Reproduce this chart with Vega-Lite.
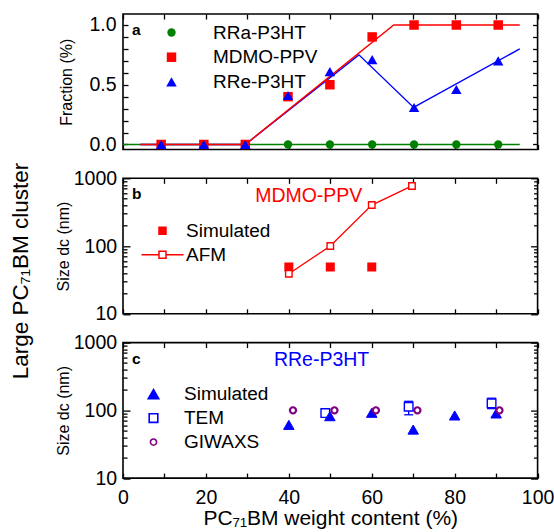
{
  "$schema": "https://vega.github.io/schema/vega-lite/v6.json",
  "padding": {"left": 9, "top": 12, "right": 0, "bottom": 3},
  "title": {"text": "Large PC₇₁BM cluster", "orient": "left", "anchor": "middle", "fontSize": 22.5, "fontWeight": "normal", "offset": 22},
  "spacing": 28.3,
  "bounds": "flush",
  "datasets": {
    "fitA": [
      {"series": "RRa-P3HT", "x": 0, "y": 0}, {"series": "RRa-P3HT", "x": 95.7, "y": 0},
      {"series": "RRe-P3HT", "x": 4.2, "y": 0}, {"series": "RRe-P3HT", "x": 29.5, "y": 0}, {"series": "RRe-P3HT", "x": 56.9, "y": 0.75}, {"series": "RRe-P3HT", "x": 70.1, "y": 0.31}, {"series": "RRe-P3HT", "x": 95.7, "y": 0.8},
      {"series": "MDMO-PPV", "x": 4.2, "y": 0}, {"series": "MDMO-PPV", "x": 29.5, "y": 0}, {"series": "MDMO-PPV", "x": 65.3, "y": 1}, {"series": "MDMO-PPV", "x": 95.7, "y": 1}
    ],
    "ptsA": [
      {"series": "RRa-P3HT", "x": 9.2, "y": 0}, {"series": "RRa-P3HT", "x": 19.5, "y": 0}, {"series": "RRa-P3HT", "x": 29.5, "y": 0}, {"series": "RRa-P3HT", "x": 39.8, "y": 0}, {"series": "RRa-P3HT", "x": 49.9, "y": 0}, {"series": "RRa-P3HT", "x": 60.1, "y": 0}, {"series": "RRa-P3HT", "x": 70.2, "y": 0}, {"series": "RRa-P3HT", "x": 80.4, "y": 0}, {"series": "RRa-P3HT", "x": 90.5, "y": 0},
      {"series": "MDMO-PPV", "x": 9.2, "y": 0}, {"series": "MDMO-PPV", "x": 19.5, "y": 0}, {"series": "MDMO-PPV", "x": 29.5, "y": 0}, {"series": "MDMO-PPV", "x": 39.8, "y": 0.4}, {"series": "MDMO-PPV", "x": 49.9, "y": 0.5}, {"series": "MDMO-PPV", "x": 60.1, "y": 0.9}, {"series": "MDMO-PPV", "x": 70.2, "y": 1}, {"series": "MDMO-PPV", "x": 80.4, "y": 1}, {"series": "MDMO-PPV", "x": 90.5, "y": 1},
      {"series": "RRe-P3HT", "x": 9.2, "y": 0}, {"series": "RRe-P3HT", "x": 19.5, "y": 0}, {"series": "RRe-P3HT", "x": 29.5, "y": 0}, {"series": "RRe-P3HT", "x": 39.8, "y": 0.41}, {"series": "RRe-P3HT", "x": 49.9, "y": 0.61}, {"series": "RRe-P3HT", "x": 60.1, "y": 0.71}, {"series": "RRe-P3HT", "x": 70.2, "y": 0.31}, {"series": "RRe-P3HT", "x": 80.4, "y": 0.46}, {"series": "RRe-P3HT", "x": 90.5, "y": 0.7}
    ],
    "b": [
      {"series": "Simulated", "x": 40, "y": 49}, {"series": "Simulated", "x": 50, "y": 49}, {"series": "Simulated", "x": 60, "y": 49},
      {"series": "AFM", "x": 40, "y": 39}, {"series": "AFM", "x": 50, "y": 100}, {"series": "AFM", "x": 60, "y": 403}, {"series": "AFM", "x": 69.7, "y": 771}
    ],
    "c": [
      {"series": "Simulated", "x": 40, "y": 61}, {"series": "Simulated", "x": 49.9, "y": 82}, {"series": "Simulated", "x": 60, "y": 92}, {"series": "Simulated", "x": 70, "y": 52}, {"series": "Simulated", "x": 80, "y": 84}, {"series": "Simulated", "x": 90, "y": 90},
      {"series": "TEM", "x": 48.8, "y": 91}, {"series": "TEM", "x": 68.9, "y": 113}, {"series": "TEM", "x": 88.9, "y": 127},
      {"series": "GIWAXS", "x": 41, "y": 100}, {"series": "GIWAXS", "x": 51, "y": 100}, {"series": "GIWAXS", "x": 61, "y": 100}, {"series": "GIWAXS", "x": 71, "y": 100}, {"series": "GIWAXS", "x": 90.8, "y": 100}
    ],
    "cErr": [
      {"x": 68.9, "lo": 86, "hi": 136}, {"x": 88.9, "lo": 106, "hi": 151}
    ]
  },
  "vconcat": [
    {
      "width": 414.6, "height": 135.5,
      "resolve": {"axis": {"x": "independent", "y": "independent"}},
      "layer": [
        {
          "data": {"name": "fitA"},
          "transform": [{"filter": "datum.series == 'RRa-P3HT'"}],
          "mark": {"type": "line", "strokeWidth": 1.4, "clip": true, "color": "#008000"},
          "encoding": {
            "x": {"field": "x", "type": "quantitative", "scale": {"domain": [0, 100], "nice": false, "zero": false},
                  "axis": {"orient": "bottom", "values": [0,10,20,30,40,50,60,70,80,90,100], "tickSize": -5, "labels": false, "title": null}},
            "y": {"field": "y", "type": "quantitative", "scale": {"domain": [-0.042, 1.092], "nice": false, "zero": false},
                  "axis": {"orient": "left", "values": [0,0.1,0.2,0.3,0.4,0.5,0.6,0.7,0.8,0.9,1], "tickSize": -5, "labelPadding": 11.9,
                           "labelExpr": "datum.value == 0 || datum.value == 0.5 || datum.value == 1 ? format(datum.value, '.1f') : ''",
                           "title": "Fraction (%)", "titleFontSize": 16, "titlePadding": 14.5}}
          }
        },
        {
          "data": {"name": "fitA"},
          "transform": [{"filter": "datum.series == 'RRe-P3HT'"}],
          "mark": {"type": "line", "strokeWidth": 1.4, "clip": true, "color": "#0000ff"},
          "encoding": {
            "x": {"field": "x", "type": "quantitative", "scale": {"domain": [0, 100], "nice": false, "zero": false}, "axis": null},
            "y": {"field": "y", "type": "quantitative", "scale": {"domain": [-0.042, 1.092], "nice": false, "zero": false}, "axis": null}
          }
        },
        {
          "data": {"name": "fitA"},
          "transform": [{"filter": "datum.series == 'MDMO-PPV'"}],
          "mark": {"type": "line", "strokeWidth": 1.4, "clip": true, "color": "#ff0000"},
          "encoding": {
            "x": {"field": "x", "type": "quantitative", "scale": {"domain": [0, 100], "nice": false, "zero": false}, "axis": null},
            "y": {"field": "y", "type": "quantitative", "scale": {"domain": [-0.042, 1.092], "nice": false, "zero": false}, "axis": null}
          }
        },
        {
          "data": {"name": "ptsA"},
          "mark": {"type": "point", "filled": true, "opacity": 1},
          "encoding": {
            "x": {"field": "x", "type": "quantitative", "scale": {"domain": [0, 100], "nice": false, "zero": false},
                  "axis": {"orient": "top", "values": [0,10,20,30,40,50,60,70,80,90,100], "tickSize": -5, "labels": false, "title": null}},
            "y": {"field": "y", "type": "quantitative", "scale": {"domain": [-0.042, 1.092], "nice": false, "zero": false},
                  "axis": {"orient": "right", "values": [0,0.1,0.2,0.3,0.4,0.5,0.6,0.7,0.8,0.9,1], "tickSize": -5, "labels": false, "title": null}},
            "fill": {"field": "series", "type": "nominal", "scale": {"domain": ["RRa-P3HT", "MDMO-PPV", "RRe-P3HT"], "range": ["#008000", "#ff0000", "#0000ff"]},
                     "legend": {"title": null, "orient": "none", "legendX": 39, "legendY": 9, "labelFontSize": 19, "labelOffset": 32, "rowPadding": 4.7, "padding": 0}},
            "shape": {"field": "series", "type": "nominal", "scale": {"domain": ["RRa-P3HT", "MDMO-PPV", "RRe-P3HT"], "range": ["circle", "square", "triangle-up"]}},
            "size": {"field": "series", "type": "nominal", "scale": {"domain": ["RRa-P3HT", "MDMO-PPV", "RRe-P3HT"], "range": [70, 110, 144]}}
          }
        },
        {
          "data": {"values": [{"label": "a"}]},
          "mark": {"type": "text", "color": "#000000", "fontSize": 15.5, "fontWeight": "bold", "align": "left", "baseline": "alphabetic"},
          "encoding": {
            "x": {"datum": 2.2, "type": "quantitative", "scale": {"domain": [0, 100], "nice": false, "zero": false}, "axis": null},
            "y": {"datum": 0.916, "type": "quantitative", "scale": {"domain": [-0.042, 1.092], "nice": false, "zero": false}, "axis": null},
            "text": {"field": "label"}
          }
        }
      ]
    },
    {
      "width": 414.6, "height": 135.5,
      "resolve": {"axis": {"x": "independent", "y": "independent"}},
      "layer": [
        {
          "data": {"name": "b"},
          "transform": [{"filter": "datum.series == 'AFM'"}],
          "mark": {"type": "line", "strokeWidth": 1.3, "color": "#ff0000"},
          "encoding": {
            "x": {"field": "x", "type": "quantitative", "scale": {"domain": [0, 100], "nice": false, "zero": false},
                  "axis": {"orient": "bottom", "values": [0,10,20,30,40,50,60,70,80,90,100], "tickSize": -5, "labels": false, "title": null}},
            "y": {"field": "y", "type": "quantitative", "scale": {"type": "log", "domain": [10, 1000], "nice": false},
                  "axis": {"orient": "left", "values": [10, 100, 1000], "tickSize": -7, "format": "d", "labelPadding": 13.4, "title": "Size dc (nm)", "titleFontSize": 16, "titlePadding": 2}}
          }
        },
        {
          "data": {"name": "b"},
          "transform": [{"filter": "datum.series == 'Simulated'"}],
          "mark": {"type": "point", "filled": true, "opacity": 1, "size": 56, "strokeWidth": 1.5},
          "encoding": {
            "x": {"field": "x", "type": "quantitative", "scale": {"domain": [0, 100], "nice": false, "zero": false},
                  "axis": {"orient": "top", "values": [0,10,20,30,40,50,60,70,80,90,100], "tickSize": -5, "labels": false, "title": null}},
            "y": {"field": "y", "type": "quantitative", "scale": {"type": "log", "domain": [10, 1000], "nice": false},
                  "axis": {"orient": "right", "values": [10, 100, 1000], "tickSize": -7, "labels": false, "title": null}},
            "fill": {"field": "series", "type": "nominal", "scale": {"domain": ["Simulated", "AFM"], "range": ["#ff0000", "#ffffff"]},
                     "legend": {"title": null, "orient": "none", "legendX": 30, "legendY": 43, "labelFontSize": 19, "labelOffset": 14, "rowPadding": 4, "symbolSize": 49, "symbolStrokeWidth": 1.5, "padding": 0}},
            "stroke": {"field": "series", "type": "nominal", "scale": {"domain": ["Simulated", "AFM"], "range": ["#ff0000", "#ff0000"]}},
            "shape": {"field": "series", "type": "nominal", "scale": {"domain": ["Simulated", "AFM"], "range": ["square", "M-6,0H-1M1,0H6M-1,-1H1V1H-1Z"]}}
          }
        },
        {
          "data": {"name": "b"},
          "transform": [{"filter": "datum.series == 'AFM'"}],
          "mark": {"type": "point", "filled": true, "opacity": 1, "shape": "square", "size": 42, "strokeWidth": 1.4},
          "encoding": {
            "x": {"field": "x", "type": "quantitative", "scale": {"domain": [0, 100], "nice": false, "zero": false}, "axis": null},
            "y": {"field": "y", "type": "quantitative", "scale": {"type": "log", "domain": [10, 1000], "nice": false},
                  "axis": {"orient": "left", "values": [20,30,40,50,60,70,80,90,200,300,400,500,600,700,800,900], "tickSize": -4, "labels": false, "title": null}},
            "fill": {"field": "series", "type": "nominal", "scale": {"domain": ["Simulated", "AFM"], "range": ["#ff0000", "#ffffff"]}},
            "stroke": {"field": "series", "type": "nominal", "scale": {"domain": ["Simulated", "AFM"], "range": ["#ff0000", "#ff0000"]}}
          }
        },
        {
          "data": {"values": [{"label": "MDMO-PPV"}]},
          "mark": {"type": "text", "color": "#ff0000", "fontSize": 19.5, "align": "center", "baseline": "middle"},
          "encoding": {
            "x": {"datum": 44.8, "type": "quantitative", "scale": {"domain": [0, 100], "nice": false, "zero": false}, "axis": null},
            "y": {"datum": 541, "type": "quantitative", "scale": {"type": "log", "domain": [10, 1000], "nice": false},
                  "axis": {"orient": "right", "values": [20,30,40,50,60,70,80,90,200,300,400,500,600,700,800,900], "tickSize": -4, "labels": false, "title": null}},
            "text": {"field": "label"}
          }
        },
        {
          "data": {"values": [{"label": "b"}]},
          "mark": {"type": "text", "color": "#000000", "fontSize": 15.5, "fontWeight": "bold", "align": "left", "baseline": "alphabetic"},
          "encoding": {
            "x": {"datum": 2.2, "type": "quantitative", "scale": {"domain": [0, 100], "nice": false, "zero": false}, "axis": null},
            "y": {"datum": 493, "type": "quantitative", "scale": {"type": "log", "domain": [10, 1000], "nice": false}, "axis": null},
            "text": {"field": "label"}
          }
        }
      ]
    },
    {
      "width": 414.6, "height": 135.5,
      "resolve": {"axis": {"x": "independent", "y": "independent"}},
      "layer": [
        {
          "data": {"name": "cErr"},
          "mark": {"type": "rule", "color": "#0000ff", "strokeWidth": 1.3},
          "encoding": {
            "x": {"field": "x", "type": "quantitative", "scale": {"domain": [0, 100], "nice": false, "zero": false}, "axis": null},
            "y": {"field": "lo", "type": "quantitative", "scale": {"type": "log", "domain": [10, 1000], "nice": false},
                  "axis": {"orient": "right", "values": [20,30,40,50,60,70,80,90,200,300,400,500,600,700,800,900], "tickSize": -4, "labels": false, "title": null}},
            "y2": {"field": "hi"}
          }
        },
        {
          "data": {"name": "cErr"},
          "mark": {"type": "tick", "color": "#0000ff", "orient": "horizontal", "size": 9, "thickness": 1.3, "opacity": 1},
          "encoding": {
            "x": {"field": "x", "type": "quantitative", "scale": {"domain": [0, 100], "nice": false, "zero": false}, "axis": null},
            "y": {"field": "lo", "type": "quantitative", "scale": {"type": "log", "domain": [10, 1000], "nice": false}, "axis": null}
          }
        },
        {
          "data": {"name": "cErr"},
          "mark": {"type": "tick", "color": "#0000ff", "orient": "horizontal", "size": 9, "thickness": 1.3, "opacity": 1},
          "encoding": {
            "x": {"field": "x", "type": "quantitative", "scale": {"domain": [0, 100], "nice": false, "zero": false}, "axis": null},
            "y": {"field": "hi", "type": "quantitative", "scale": {"type": "log", "domain": [10, 1000], "nice": false}, "axis": null}
          }
        },
        {
          "data": {"name": "c"},
          "transform": [{"filter": "datum.series == 'TEM'"}],
          "mark": {"type": "point", "filled": true, "opacity": 1, "strokeWidth": 1.4},
          "encoding": {
            "x": {"field": "x", "type": "quantitative", "scale": {"domain": [0, 100], "nice": false, "zero": false},
                  "axis": {"orient": "top", "values": [0,10,20,30,40,50,60,70,80,90,100], "tickSize": -5, "labels": false, "title": null}},
            "y": {"field": "y", "type": "quantitative", "scale": {"type": "log", "domain": [10, 1000], "nice": false},
                  "axis": {"orient": "right", "values": [10, 100, 1000], "tickSize": -7, "labels": false, "title": null}},
            "fill": {"field": "series", "type": "nominal", "scale": {"domain": ["Simulated", "TEM", "GIWAXS"], "range": ["#0000ff", "#ffffff", "#ffffff"]},
                     "legend": {"title": null, "orient": "none", "legendX": 21, "legendY": 42, "labelFontSize": 19, "labelOffset": 21, "rowPadding": 4, "symbolStrokeWidth": 1.6, "padding": 0}},
            "stroke": {"field": "series", "type": "nominal", "scale": {"domain": ["Simulated", "TEM", "GIWAXS"], "range": ["#0000ff", "#0000ff", "#800080"]}},
            "shape": {"field": "series", "type": "nominal", "scale": {"domain": ["Simulated", "TEM", "GIWAXS"], "range": ["triangle-up", "square", "circle"]}},
            "size": {"field": "series", "type": "nominal", "scale": {"domain": ["Simulated", "TEM", "GIWAXS"], "range": [110, 38, 80]}}
          }
        },
        {
          "data": {"name": "c"},
          "transform": [{"filter": "datum.series == 'Simulated'"}],
          "mark": {"type": "point", "filled": true, "opacity": 1, "strokeWidth": 1},
          "encoding": {
            "x": {"field": "x", "type": "quantitative", "scale": {"domain": [0, 100], "nice": false, "zero": false},
                  "axis": {"orient": "bottom", "values": [0,10,20,30,40,50,60,70,80,90,100], "tickSize": -5, "labelPadding": 15,
                           "labelExpr": "datum.value % 20 == 0 ? datum.label : ''",
                           "title": "PC₇₁BM weight content (%)", "titleFontSize": 21, "titlePadding": 1}},
            "y": {"field": "y", "type": "quantitative", "scale": {"type": "log", "domain": [10, 1000], "nice": false},
                  "axis": {"orient": "left", "values": [10, 100, 1000], "tickSize": -7, "format": "d", "labelPadding": 13.4, "title": "Size dc (nm)", "titleFontSize": 16, "titlePadding": 2}},
            "fill": {"field": "series", "type": "nominal", "scale": {"domain": ["Simulated", "TEM", "GIWAXS"], "range": ["#0000ff", "#ffffff", "#ffffff"]}},
            "stroke": {"field": "series", "type": "nominal", "scale": {"domain": ["Simulated", "TEM", "GIWAXS"], "range": ["#0000ff", "#0000ff", "#800080"]}},
            "shape": {"field": "series", "type": "nominal", "scale": {"domain": ["Simulated", "TEM", "GIWAXS"], "range": ["triangle-up", "square", "circle"]}},
            "size": {"field": "series", "type": "nominal", "scale": {"domain": ["Simulated", "TEM", "GIWAXS"], "range": [110, 38, 80]}}
          }
        },
        {
          "data": {"name": "c"},
          "transform": [{"filter": "datum.series == 'GIWAXS'"}],
          "mark": {"type": "point", "filled": true, "opacity": 1, "strokeWidth": 2.2},
          "encoding": {
            "x": {"field": "x", "type": "quantitative", "scale": {"domain": [0, 100], "nice": false, "zero": false}, "axis": null},
            "y": {"field": "y", "type": "quantitative", "scale": {"type": "log", "domain": [10, 1000], "nice": false},
                  "axis": {"orient": "left", "values": [20,30,40,50,60,70,80,90,200,300,400,500,600,700,800,900], "tickSize": -4, "labels": false, "title": null}},
            "fill": {"field": "series", "type": "nominal", "scale": {"domain": ["Simulated", "TEM", "GIWAXS"], "range": ["#0000ff", "#ffffff", "#ffffff"]}},
            "stroke": {"field": "series", "type": "nominal", "scale": {"domain": ["Simulated", "TEM", "GIWAXS"], "range": ["#0000ff", "#0000ff", "#800080"]}},
            "shape": {"field": "series", "type": "nominal", "scale": {"domain": ["Simulated", "TEM", "GIWAXS"], "range": ["triangle-up", "square", "circle"]}},
            "size": {"field": "series", "type": "nominal", "scale": {"domain": ["Simulated", "TEM", "GIWAXS"], "range": [110, 38, 80]}}
          }
        },
        {
          "data": {"values": [{"label": "RRe-P3HT"}]},
          "mark": {"type": "text", "color": "#0000ff", "fontSize": 19.5, "align": "center", "baseline": "middle"},
          "encoding": {
            "x": {"datum": 47.9, "type": "quantitative", "scale": {"domain": [0, 100], "nice": false, "zero": false}, "axis": null},
            "y": {"datum": 562, "type": "quantitative", "scale": {"type": "log", "domain": [10, 1000], "nice": false}, "axis": null},
            "text": {"field": "label"}
          }
        },
        {
          "data": {"values": [{"label": "c"}]},
          "mark": {"type": "text", "color": "#000000", "fontSize": 15.5, "fontWeight": "bold", "align": "left", "baseline": "alphabetic"},
          "encoding": {
            "x": {"datum": 2.2, "type": "quantitative", "scale": {"domain": [0, 100], "nice": false, "zero": false}, "axis": null},
            "y": {"datum": 479, "type": "quantitative", "scale": {"type": "log", "domain": [10, 1000], "nice": false}, "axis": null},
            "text": {"field": "label"}
          }
        }
      ]
    }
  ],
  "resolve": {
    "scale": {"x": "independent", "y": "independent", "color": "independent", "fill": "independent", "stroke": "independent", "shape": "independent", "size": "independent"},
    "legend": {"color": "independent", "fill": "independent", "stroke": "independent", "shape": "independent", "size": "independent"}
  },
  "config": {
    "font": "Liberation Sans",
    "view": {"stroke": "#000000", "strokeWidth": 1.6},
    "axis": {"grid": false, "domain": false, "tickColor": "#000000", "tickWidth": 1.3, "labelColor": "#000000", "labelFontSize": 19.5, "titleFontWeight": "normal", "titleColor": "#000000", "labelFlush": false, "labelOverlap": false},
    "legend": {"labelColor": "#000000", "labelFont": "Liberation Sans"},
    "title": {"color": "#000000"}
  }
}
